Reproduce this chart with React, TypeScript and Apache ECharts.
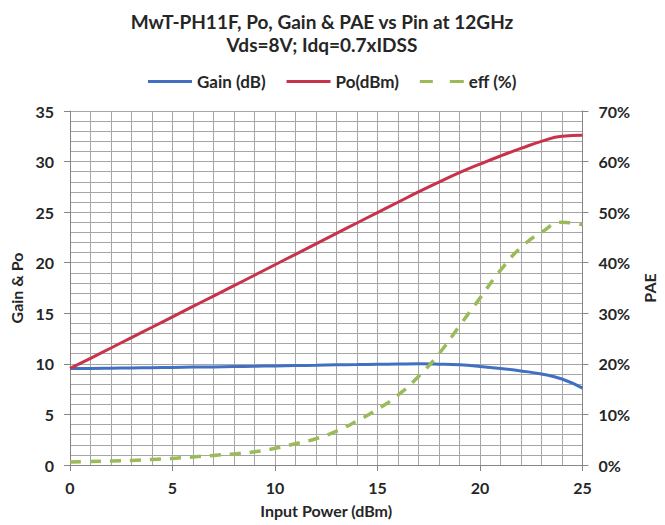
import React, { useEffect, useRef } from "react";
import * as echarts from "echarts";

const pinDbm = [0, 1, 2, 3, 4, 5, 6, 7, 8, 9, 10, 11, 12, 13, 14, 15, 16, 17, 18, 19, 20, 21, 22, 23, 24, 25];
const gainDb = [9.55, 9.55, 9.57, 9.6, 9.62, 9.65, 9.68, 9.7, 9.73, 9.76, 9.8, 9.83, 9.86, 9.9, 9.93, 9.96, 9.98, 10.0, 9.97, 9.9, 9.75, 9.55, 9.3, 9.0, 8.5, 7.6];
const poDbm = [9.55, 10.55, 11.57, 12.6, 13.62, 14.65, 15.68, 16.7, 17.73, 18.76, 19.8, 20.83, 21.86, 22.9, 23.93, 24.96, 25.98, 27.0, 27.97, 28.9, 29.75, 30.55, 31.3, 32.0, 32.5, 32.6];
const effPct = [0.6, 0.7, 0.8, 0.9, 1.1, 1.3, 1.6, 1.9, 2.2, 2.6, 3.3, 4.2, 5.2, 6.7, 8.7, 11, 13.8, 17.5, 22, 27.5, 33, 38.5, 43, 46, 48, 47.5];

const seriesNames = ["Gain (dB)", "Po(dBm)", "eff (%)"];
const titleLines = ["MwT-PH11F, Po, Gain & PAE vs Pin at 12GHz", "Vds=8V; Idq=0.7xIDSS"];

const FONT = "Lato, 'Open Sans', sans-serif";
const TXT = "#262626";
const GRID = "#a6a6a6";
const AXIS = "#868686";
const SOLID_ICON = "path://M0,0H44V3H0Z";
const DASH_ICON = "path://M0,0H13V3H0Z M30,0H44V3H30Z";

export default function App() {
  const ref = useRef<HTMLDivElement>(null);
  useEffect(() => {
    if (!ref.current) return;
    const chart = echarts.init(ref.current, null, { renderer: "svg" });
    const pairs = (ys: number[]) => pinDbm.map((x, i) => [x, ys[i]]);
    const labelStyle = { fontFamily: FONT, fontWeight: "bold" as const, fontSize: 16, color: TXT };
    chart.setOption({
      animation: false,
      backgroundColor: "#ffffff",
      title: {
        text: titleLines.join("\n"),
        left: 317,
        top: 5,
        textAlign: "center",
        textStyle: { fontFamily: FONT, fontWeight: "bold", fontSize: 19, lineHeight: 23, color: TXT },
      },
      legend: {
        data: [
          { name: seriesNames[0], icon: SOLID_ICON },
          { name: seriesNames[1], icon: SOLID_ICON },
          { name: seriesNames[2], icon: DASH_ICON },
        ],
        left: 148,
        top: 73,
        padding: 0,
        itemWidth: 44,
        itemHeight: 3,
        itemGap: 21,
        textStyle: { fontFamily: FONT, fontWeight: "bold", fontSize: 17, color: TXT },
      },
      grid: { left: 70, right: 75, top: 111, bottom: 60, containLabel: false },
      xAxis: {
        type: "value",
        min: 0,
        max: 25,
        interval: 5,
        name: "Input Power (dBm)",
        nameLocation: "middle",
        nameGap: 37,
        nameTextStyle: labelStyle,
        axisLine: { show: true, lineStyle: { color: AXIS, width: 1 } },
        axisTick: { show: true, length: 6, lineStyle: { color: AXIS } },
        axisLabel: { ...labelStyle, margin: 14 },
        splitLine: { show: true, lineStyle: { color: GRID, width: 1 } },
        minorTick: { show: false, splitNumber: 5 },
        minorSplitLine: { show: true, lineStyle: { color: GRID, width: 1 } },
      },
      yAxis: [
        {
          type: "value",
          min: 0,
          max: 35,
          interval: 5,
          name: "Gain & Po",
          nameLocation: "middle",
          nameGap: 44,
          nameTextStyle: labelStyle,
          axisLine: { show: true, lineStyle: { color: AXIS, width: 1 } },
          axisTick: { show: true, length: 6, lineStyle: { color: AXIS } },
          axisLabel: { ...labelStyle, margin: 16 },
          splitLine: { show: true, lineStyle: { color: GRID, width: 1 } },
          minorTick: { show: false, splitNumber: 5 },
          minorSplitLine: { show: true, lineStyle: { color: GRID, width: 1 } },
        },
        {
          type: "value",
          min: 0,
          max: 70,
          interval: 10,
          position: "right",
          name: "PAE",
          nameLocation: "middle",
          nameGap: 55,
          nameTextStyle: labelStyle,
          axisLine: { show: true, lineStyle: { color: AXIS, width: 1 } },
          axisTick: { show: true, length: 6, lineStyle: { color: AXIS } },
          axisLabel: { ...labelStyle, margin: 16, formatter: "{value}%" },
          splitLine: { show: false },
        },
      ],
      series: [
        {
          name: seriesNames[0],
          type: "line",
          data: pairs(gainDb),
          smooth: true,
          symbol: "none",
          lineStyle: { color: "#4170c2", width: 3 },
          itemStyle: { color: "#4170c2" },
          z: 3,
        },
        {
          name: seriesNames[1],
          type: "line",
          data: pairs(poDbm),
          smooth: true,
          symbol: "none",
          lineStyle: { color: "#c8334b", width: 3 },
          itemStyle: { color: "#c8334b" },
          z: 3,
        },
        {
          name: seriesNames[2],
          type: "line",
          yAxisIndex: 1,
          data: pairs(effPct),
          smooth: true,
          symbol: "none",
          lineStyle: { color: "#9bbb59", width: 3.5, type: [11, 9] },
          itemStyle: { color: "#9bbb59" },
          z: 4,
        },
      ],
    });
    return () => chart.dispose();
  }, []);
  return (
    <div
      ref={ref}
      style={{ position: "fixed", left: 0, top: 0, width: 665, height: 525, background: "#fff" }}
    />
  );
}
